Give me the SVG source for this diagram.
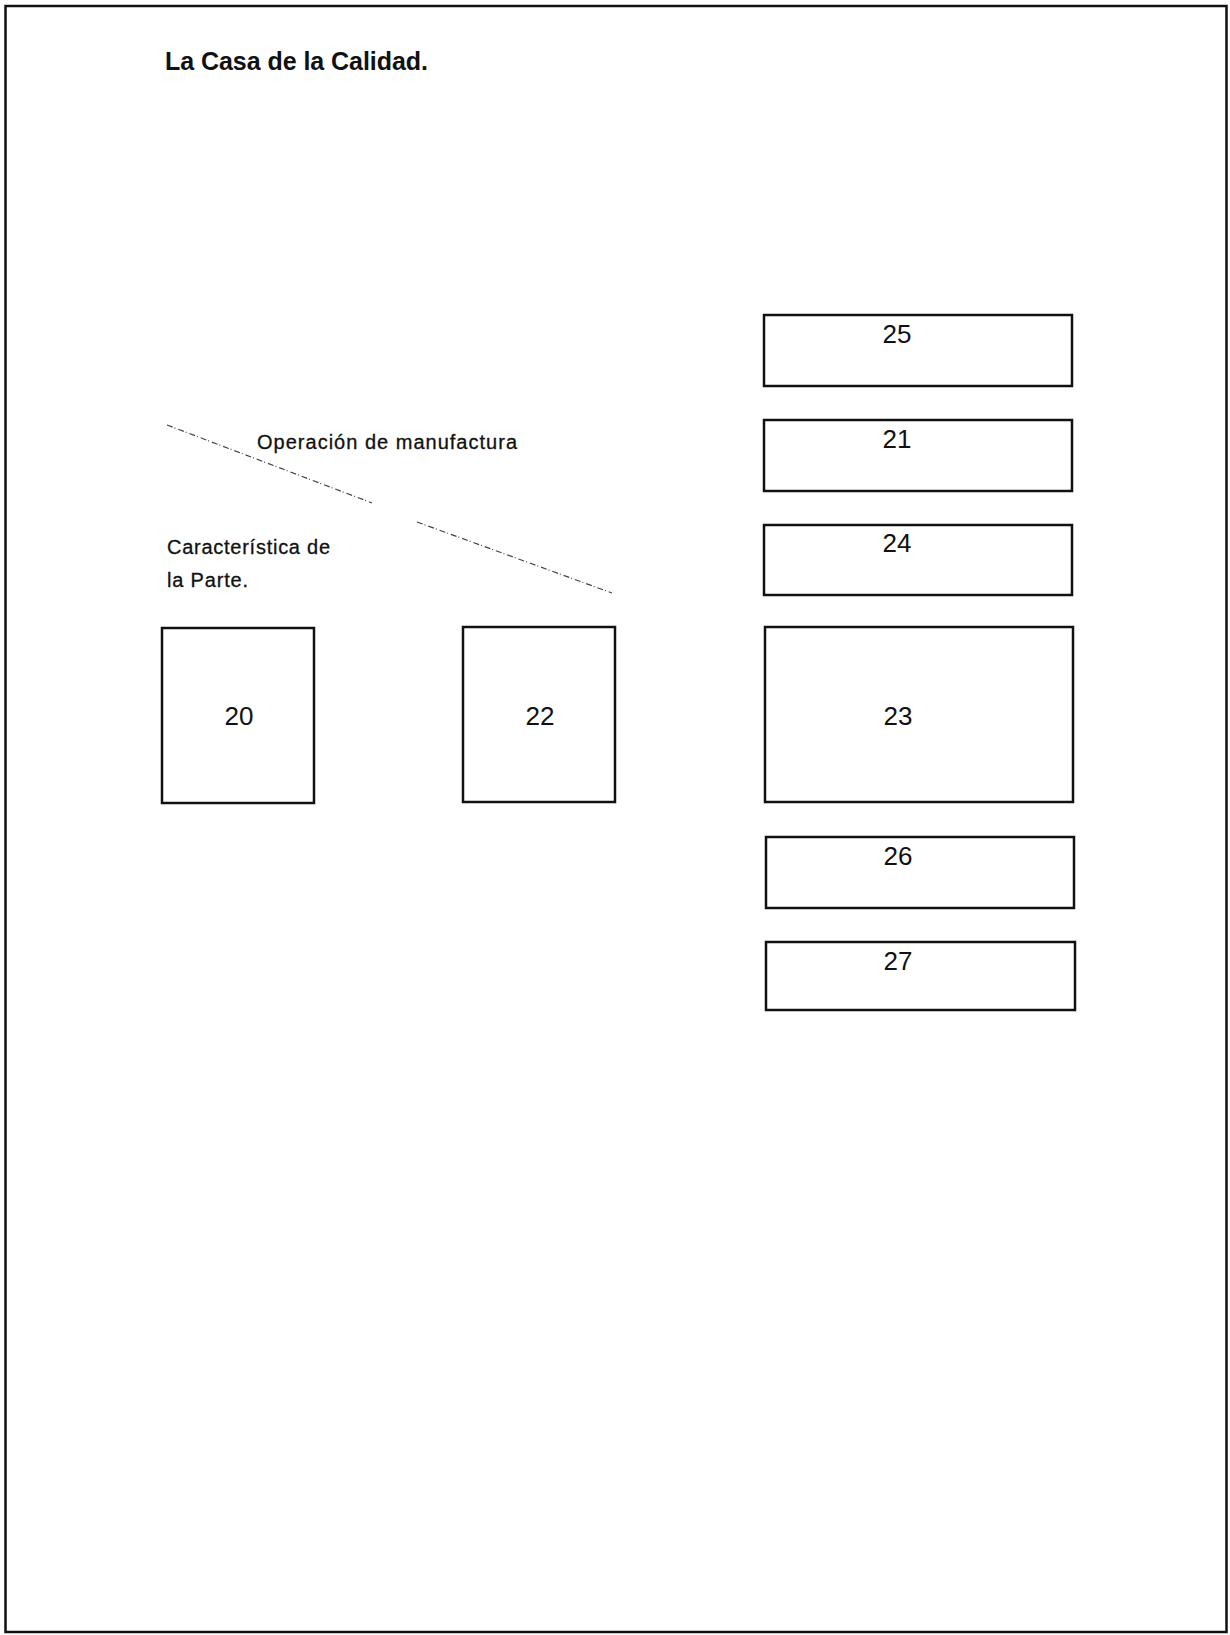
<svg xmlns="http://www.w3.org/2000/svg" width="1230" height="1635" viewBox="0 0 1230 1635">
<style>
.box{fill:none;stroke:#111;stroke-width:2.5}
.num{font-family:"Liberation Sans",Arial,sans-serif;font-size:26px;fill:#111;text-anchor:middle}
.lbl{font-family:"Liberation Sans",Arial,sans-serif;font-size:20px;fill:#111;stroke:#111;stroke-width:0.3}
.diag{fill:none;stroke:#444;stroke-width:1.2;stroke-dasharray:6 2 1 3}
</style>
<rect x="0" y="0" width="1230" height="1635" fill="#fff"/>
<rect x="5.5" y="6" width="1221" height="1626" fill="none" stroke="#111" stroke-width="2.5"/>
<text x="165" y="70" font-family="Liberation Sans, Arial, sans-serif" font-size="25" font-weight="bold" fill="#111" textLength="263" lengthAdjust="spacing">La Casa de la Calidad.</text>
<text x="257" y="449" class="lbl" font-size="21" textLength="260" lengthAdjust="spacing">Operación de manufactura</text>
<text x="167" y="554" class="lbl" textLength="163" lengthAdjust="spacing">Característica de</text>
<text x="167" y="587" class="lbl" textLength="81" lengthAdjust="spacing">la Parte.</text>
<g id="connectors">
<line class="diag" x1="167" y1="425" x2="372" y2="503"/>
<line class="diag" x1="417" y1="522" x2="612" y2="593"/>
</g>
<g id="node-20"><rect class="box" x="162" y="628" width="152" height="175"/><text class="num" x="239" y="725">20</text></g>
<g id="node-22"><rect class="box" x="463" y="627" width="152" height="175"/><text class="num" x="540" y="725">22</text></g>
<g id="node-25"><rect class="box" x="764" y="315" width="308" height="71"/><text class="num" x="897" y="343">25</text></g>
<g id="node-21"><rect class="box" x="764" y="420" width="308" height="71"/><text class="num" x="897" y="448">21</text></g>
<g id="node-24"><rect class="box" x="764" y="525" width="308" height="70"/><text class="num" x="897" y="552">24</text></g>
<g id="node-23"><rect class="box" x="765" y="627" width="308" height="175"/><text class="num" x="898" y="725">23</text></g>
<g id="node-26"><rect class="box" x="766" y="837" width="308" height="71"/><text class="num" x="898" y="865">26</text></g>
<g id="node-27"><rect class="box" x="766" y="942" width="309" height="68"/><text class="num" x="898" y="970">27</text></g>
</svg>
